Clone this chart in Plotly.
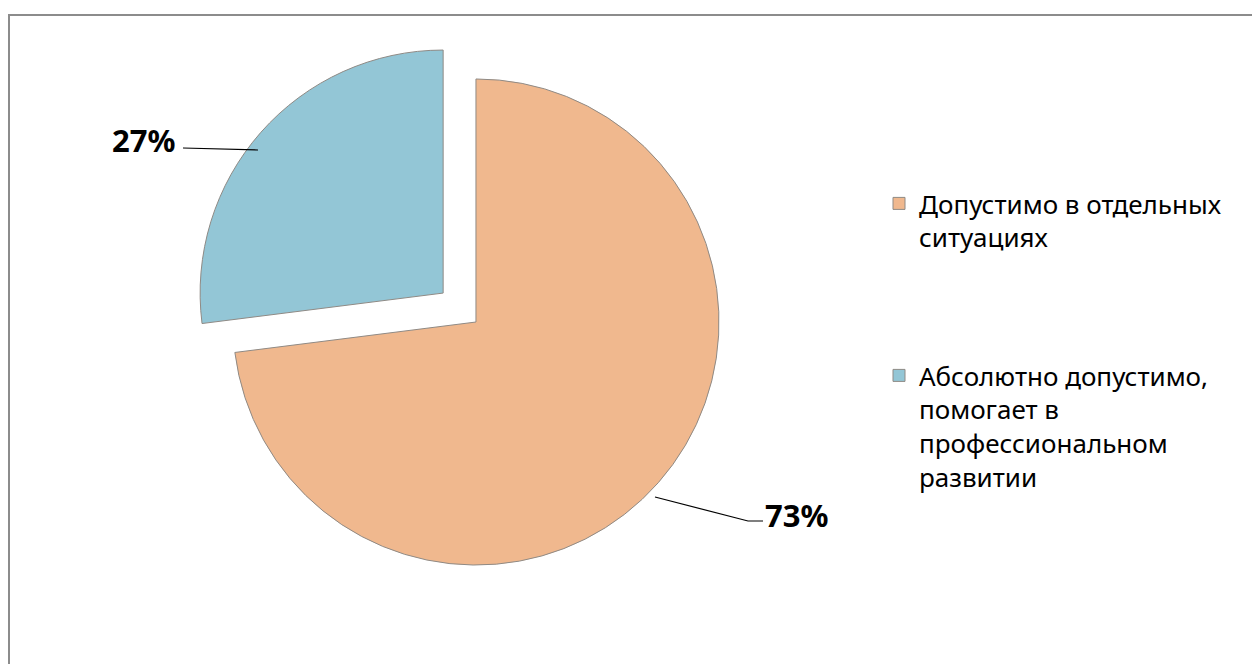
import plotly.graph_objects as go

labels = ["Допустимо в отдельных<br>ситуациях<br> <br> <br> ",
          "Абсолютно допустимо,<br>помогает в<br>профессиональном<br>развитии"]
values = [73, 27]
pct_text = ["73%", "27%"]
colors = ["#F0B88E", "#93C6D6"]
pulls = [0, 0.18]

W, H = 1260, 664
OFF = 8  # page body margin


def px(x, y):
    return (x - OFF) / W, 1 - (y - OFF) / H


fig = go.Figure()
fig.add_trace(go.Pie(
    labels=labels, values=values, sort=False, direction="clockwise", rotation=0,
    pull=pulls, textinfo="none", hoverinfo="label+percent",
    marker=dict(colors=colors, line=dict(color="#8f8a85", width=1)),
    domain=dict(x=[0.1414, 0.6014], y=[0.0952, 0.959]),
))

# leader lines
fig.add_shape(type="path", xref="paper", yref="paper",
              path="M {} {} L {} {}".format(*px(183, 148), *px(258, 150)),
              line=dict(color="black", width=1.2))
fig.add_shape(type="path", xref="paper", yref="paper",
              path="M {} {} L {} {} L {} {}".format(*px(655, 497), *px(748, 521), *px(763, 521)),
              line=dict(color="black", width=1.2))

fig.add_annotation(x=px(177, 140)[0], y=px(177, 140)[1], xref="paper", yref="paper",
                   text="<b>%s</b>" % pct_text[1], showarrow=False,
                   xanchor="right", yanchor="middle",
                   font=dict(family="Noto Sans", size=31, color="black"))
fig.add_annotation(x=px(763, 515)[0], y=px(763, 515)[1], xref="paper", yref="paper",
                   text="<b>%s</b>" % pct_text[0], showarrow=False,
                   xanchor="left", yanchor="middle",
                   font=dict(family="Noto Sans", size=31, color="black"))

# chart border
fig.add_shape(type="rect", xref="paper", yref="paper",
              x0=1 / W, x1=1.01, y0=-0.01, y1=1 - 7 / H,
              line=dict(color="#8c8c8c", width=2))

fig.update_layout(
    width=W, height=H, margin=dict(l=0, r=0, t=0, b=0),
    paper_bgcolor="white", plot_bgcolor="white",
    showlegend=True,
    legend=dict(x=871 / W, y=1 - 172 / H, xanchor="left", yanchor="top",
                valign="top", font=dict(family="Noto Sans", size=26, color="black"),
                bgcolor="rgba(0,0,0,0)"),
)

fig.write_html("out.html")
